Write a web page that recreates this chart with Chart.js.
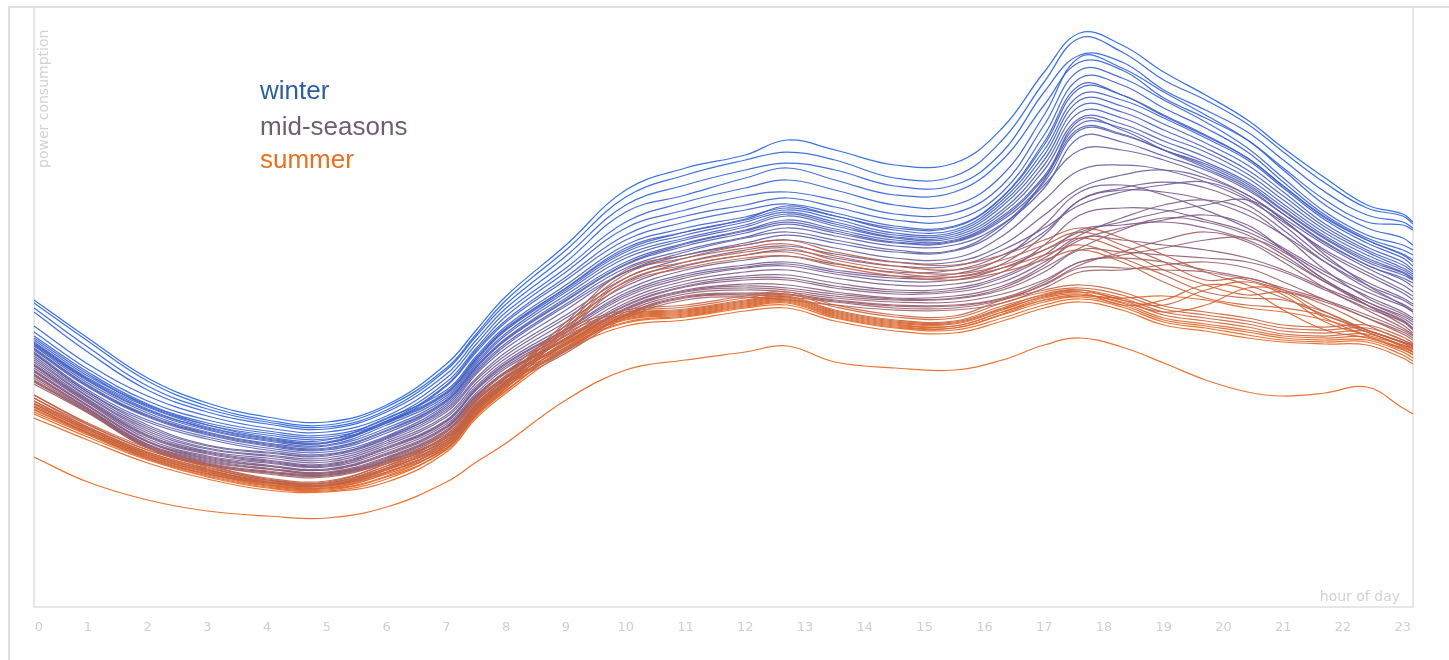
<!DOCTYPE html>
<html>
<head>
<meta charset="utf-8">
<title>Power consumption by hour of day</title>
<script src="https://cdn.jsdelivr.net/npm/chart.js@4.4.1/dist/chart.umd.min.js"></script>
<style>
  html, body { margin: 0; padding: 0; background: #fff; overflow: hidden; }
  #wrap { position: relative; width: 1449px; height: 660px; }
  #frame { position: absolute; left: 8px; top: 6px; width: 1450px; height: 660px;
           border-left: 2px solid #dedede; border-top: 2px solid #dedede; }
  #chart { position: absolute; left: 0; top: 0; }
  .season { position: absolute; left: 260px; font-family: "Liberation Sans", Arial, sans-serif;
            font-size: 26px; line-height: 26px; white-space: nowrap; }
  .axisname { position: absolute; font-family: "DejaVu Sans", Verdana, sans-serif; font-size: 14px;
              line-height: 14px; color: #d2d2d2; white-space: nowrap; }
</style>
</head>
<body>
<div id="wrap">
  <div id="frame"></div>
  <canvas id="chart" width="1449" height="660"></canvas>
  <div class="season" style="top:77px;color:#2f5e9e">winter</div>
  <div class="season" style="top:113px;color:#6c5f70">mid-seasons</div>
  <div class="season" style="top:146px;color:#e8701e">summer</div>
  <div class="axisname" style="left:36px;top:168px;transform:rotate(-90deg);transform-origin:left top">power consumption</div>
  <div class="axisname" style="right:49px;top:589px">hour of day</div>
</div>
<script>
// sample hours shared by every day curve
const hours = [0.1, 1, 2, 3, 4, 5, 6, 7, 7.5, 8, 9, 10, 11, 12, 12.7, 13.5, 14.5, 15.5, 16.3, 17,
               17.6, 18.3, 19, 19.7, 20.4, 21, 21.7, 22.4, 23, 23.17];
const hourTicks = [0, 1, 2, 3, 4, 5, 6, 7, 8, 9, 10, 11, 12, 13, 14, 15, 16, 17, 18, 19, 20, 21, 22, 23];

// power consumption per day, highest first
const winterDays = [
  [700,662,622,597,583,578,595,636,670,704,755,810,832,845,860,850,835,837,872,928,967,955,928,905,880,852,822,795,786,778],
  [697,659,619,594,580,575,593,632,666,700,750,803,825,840,848,840,822,824,860,918,962,948,920,900,876,848,817,792,784,776],
  [692,653,614,591,578,573,590,630,664,696,744,795,815,830,837,830,814,815,848,908,945,938,910,890,868,840,808,785,778,772],
  [688,648,610,588,576,571,588,626,660,692,738,788,805,822,832,820,805,808,840,895,938,930,902,882,860,832,800,778,775,770],
  [674,636,604,584,572,568,584,622,656,688,732,778,798,812,820,810,795,795,825,885,943,932,908,885,860,830,795,772,762,755],
  [668,631,599,580,569,565,581,618,652,684,728,772,790,804,808,800,786,787,815,875,930,922,900,878,852,822,788,765,755,750],
  [664,628,596,577,567,563,579,615,650,680,723,765,784,795,802,793,780,780,808,865,922,915,892,872,848,818,785,762,750,745],
  [662,626,594,575,565,561,577,614,648,678,720,760,778,790,796,787,774,774,803,855,912,905,885,865,842,814,782,760,746,740],
  [660,624,595,575,563,560,582,610,644,674,715,755,772,783,792,784,770,770,800,850,905,900,882,862,840,812,780,757,742,734],
  [658,622,593,573,562,558,579,608,642,672,712,752,768,780,790,781,767,768,797,845,900,894,876,857,835,808,776,753,738,730],
  [656,620,590,572,561,557,578,607,641,671,712,750,768,781,794,784,772,773,803,858,915,905,884,864,842,814,783,760,745,738],
  [657,621,591,571,560,557,577,606,640,670,710,748,765,778,788,778,765,766,794,840,894,888,870,852,830,804,773,750,735,728],
  [655,619,589,570,559,555,575,604,638,667,708,745,762,775,786,776,763,764,790,835,888,882,864,848,826,800,770,748,732,726],
  [654,617,587,568,557,554,572,602,636,665,705,742,760,773,784,774,762,762,787,830,882,876,859,843,822,796,767,745,730,724],
  [652,615,585,567,556,552,570,600,634,662,702,738,757,770,780,771,760,760,784,824,876,872,854,838,818,793,764,742,728,722],
  [651,614,584,566,555,551,569,599,633,661,700,736,756,769,778,769,758,759,782,822,872,866,850,836,816,790,762,740,727,721],
  [650,613,583,565,554,550,567,598,632,660,699,735,754,767,776,767,757,758,780,818,870,865,850,834,814,789,761,738,725,720],
  [648,610,580,563,552,548,564,596,630,657,696,732,750,763,772,764,754,755,776,812,863,858,844,830,810,786,758,735,722,717],
  [647,608,578,561,550,546,562,594,628,655,694,728,745,757,765,757,748,749,772,820,880,870,850,832,812,786,757,735,720,713]
];

const midSeasonDays = [
  [646,608,575,555,548,545,563,592,626,652,690,728,748,762,768,760,750,750,775,815,850,850,840,825,805,782,755,732,715,708],
  [644,606,573,554,547,544,561,590,622,648,685,722,742,755,760,752,742,742,764,800,830,835,830,818,800,778,750,728,710,704],
  [642,604,571,552,545,542,559,588,620,645,682,718,738,750,754,746,738,738,755,785,812,825,830,822,805,780,748,725,707,700],
  [640,603,569,551,544,540,557,585,617,642,678,714,734,745,750,742,734,734,750,772,795,808,815,818,802,775,742,718,702,696],
  [638,601,567,549,542,538,555,583,614,639,674,710,730,740,744,736,728,730,745,768,800,810,808,800,785,765,738,715,700,694],
  [636,600,565,548,540,536,553,580,612,637,671,707,726,735,738,730,724,726,742,775,808,815,805,790,772,752,728,708,694,688],
  [635,599,564,547,539,535,552,579,611,636,670,705,724,733,736,728,722,723,736,765,800,812,818,812,795,770,738,712,696,690],
  [634,598,563,546,538,534,551,578,610,634,668,703,722,732,734,726,719,720,732,750,768,778,788,795,800,780,745,715,695,688],
  [632,597,561,544,537,533,549,576,607,632,665,700,719,728,730,722,715,716,728,755,785,792,790,780,768,750,725,704,688,682],
  [630,595,559,543,535,531,547,574,605,629,662,697,716,724,725,717,710,712,724,745,770,775,778,772,760,742,718,698,684,678],
  [629,594,558,542,534,530,546,573,604,628,661,695,714,722,722,714,708,710,722,742,765,782,795,800,790,765,730,702,686,680],
  [628,594,558,541,534,530,545,572,603,627,660,694,713,720,720,712,706,708,718,738,760,772,780,785,775,750,720,698,682,675],
  [626,592,556,540,532,528,543,570,601,624,657,692,710,716,715,708,702,704,714,735,762,760,755,750,742,730,712,695,680,672],
  [625,591,555,539,531,527,542,569,600,623,656,691,709,714,712,706,701,702,712,732,752,770,782,778,765,745,718,695,679,671],
  [624,591,555,538,531,527,541,568,599,622,655,690,708,712,710,704,700,701,710,728,750,748,745,742,738,728,710,692,678,670],
  [622,590,554,537,529,526,540,566,597,620,653,688,706,710,708,702,698,698,706,720,738,745,752,760,762,748,720,695,675,667],
  [620,589,553,536,528,525,539,564,595,618,651,686,704,707,706,700,695,695,702,718,738,742,738,730,722,712,700,685,670,664],
  [619,588,553,536,528,525,539,563,594,617,650,685,703,706,705,699,694,694,701,716,735,748,760,768,758,738,712,690,672,665],
  [618,588,552,535,527,524,538,562,593,616,649,684,702,705,703,698,692,692,700,715,732,732,730,728,720,710,698,682,668,662],
  [616,587,552,535,526,523,537,560,591,614,647,682,700,703,700,695,690,690,697,712,728,730,735,738,732,718,700,682,666,660]
];

const summerDays = [
  [605,576,550,534,521,518,536,560,595,622,678,730,745,755,760,748,738,735,745,760,772,762,745,728,715,702,685,670,658,655],
  [602,573,548,532,520,517,534,558,592,619,675,726,742,752,756,744,734,730,740,755,768,755,738,720,722,710,688,670,657,653],
  [599,571,546,530,519,516,532,556,590,617,672,722,738,748,752,740,730,726,735,750,762,750,730,715,705,708,695,675,660,656],
  [596,569,544,528,518,515,530,554,588,615,670,719,735,745,748,737,727,723,732,745,755,742,725,708,702,700,688,670,658,654],
  [593,567,542,526,517,514,528,552,586,612,667,716,732,742,744,734,724,720,728,740,750,738,718,702,695,692,684,668,655,652],
  [605,577,552,535,522,519,537,568,602,628,670,690,695,704,708,695,685,684,700,710,715,708,694,688,682,675,673,675,663,657],
  [602,575,550,533,520,517,534,565,599,625,667,688,693,702,706,693,683,682,697,708,712,705,691,685,679,672,670,672,660,654],
  [599,573,548,531,518,515,532,562,596,622,664,686,691,700,704,690,680,679,694,705,710,702,688,682,676,669,667,669,657,651],
  [597,572,547,530,518,515,531,558,592,618,662,685,690,699,703,689,679,678,692,706,710,700,695,710,718,705,678,665,655,650],
  [596,571,546,529,517,514,530,560,594,619,661,684,689,698,702,688,678,677,691,703,708,700,685,679,673,666,664,666,654,648],
  [594,570,545,528,516,513,528,555,589,615,659,683,688,697,701,687,677,676,690,704,708,695,700,715,710,690,670,662,652,648],
  [593,568,544,527,515,512,527,557,591,616,658,682,687,696,700,686,676,674,688,700,705,697,682,676,670,664,662,663,651,645],
  [591,567,543,526,515,512,526,552,586,612,656,681,686,695,699,685,675,674,688,702,706,698,688,695,712,708,682,664,650,646],
  [590,566,542,525,514,511,524,554,588,613,655,680,685,694,698,684,674,672,685,698,703,695,680,674,668,662,660,660,648,642],
  [588,565,541,524,513,510,523,550,584,609,653,678,684,693,697,683,673,672,686,700,704,702,704,700,692,688,680,668,653,648],
  [586,563,540,523,512,509,521,551,585,610,652,677,683,692,695,682,672,670,682,695,701,693,678,672,665,660,658,658,645,639],
  [582,560,537,521,510,508,518,548,582,607,649,674,680,689,692,679,669,667,679,692,698,690,675,669,662,658,656,655,642,636],
  [543,518,500,489,484,482,493,518,538,557,600,630,640,648,654,638,632,630,640,655,662,653,637,620,608,604,607,613,592,586]
];

const blue = [40, 100, 225];
const purple = [122, 92, 140];
const orange = [232, 102, 30];

function mix(a, b, t) {
  const c = a.map(function (v, i) { return Math.round(v + (b[i] - v) * t); });
  return 'rgba(' + c[0] + ',' + c[1] + ',' + c[2] + ',0.9)';
}

// 0 = deep winter, 1 = high summer
function lineColor(t) {
  return t < 0.5 ? mix(blue, purple, t * 2) : mix(purple, orange, (t - 0.5) * 2);
}

function seasonLines(days, from, to) {
  return days.map(function (row, i) {
    const t = from + (to - from) * i / (days.length - 1);
    return {
      data: row.map(function (v, j) { return { x: hours[j], y: v }; }),
      borderColor: lineColor(t),
      borderWidth: 1.25,
      pointRadius: 0,
      fill: false,
      tension: 0.4
    };
  });
}

// light grey box round the plot
const plotFrame = {
  id: 'plotFrame',
  beforeDatasetsDraw: function (chart) {
    const a = chart.chartArea;
    const ctx = chart.ctx;
    ctx.save();
    ctx.strokeStyle = '#e0e0e0';
    ctx.lineWidth = 1.5;
    ctx.beginPath();
    ctx.moveTo(a.left, a.top);
    ctx.lineTo(a.left, a.bottom);
    ctx.lineTo(a.right, a.bottom);
    ctx.lineTo(a.right, a.top);
    ctx.stroke();
    ctx.restore();
  }
};

const datasets = seasonLines(winterDays, 0, 0.3)
  .concat(seasonLines(summerDays, 0.8, 1))
  .concat(seasonLines(midSeasonDays, 0.38, 0.68));

new Chart(document.getElementById('chart'), {
  type: 'line',
  data: { datasets: datasets },
  options: {
    responsive: false,
    animation: false,
    devicePixelRatio: 1,
    layout: { padding: { left: 34, right: 36, top: 7, bottom: 0 } },
    plugins: { legend: { display: false }, tooltip: { enabled: false } },
    scales: {
      x: {
        type: 'linear',
        min: 0.1,
        max: 23.17,
        grid: { display: false, drawTicks: false },
        border: { display: false },
        afterBuildTicks: function (scale) {
          // the 0 label sits just inside the frame
          scale.ticks = hourTicks.map(function (h) { return { value: Math.max(h, 0.18) }; });
        },
        afterFit: function (scale) { scale.height = 53; },
        ticks: {
          autoSkip: false,
          maxRotation: 0,
          padding: 13,
          color: '#cfcfcf',
          font: { family: 'DejaVu Sans', size: 13 },
          callback: function (v) { return Math.round(v); }
        }
      },
      y: {
        display: false,
        min: 393,
        max: 993
      }
    }
  },
  plugins: [plotFrame]
});
</script>
</body>
</html>
